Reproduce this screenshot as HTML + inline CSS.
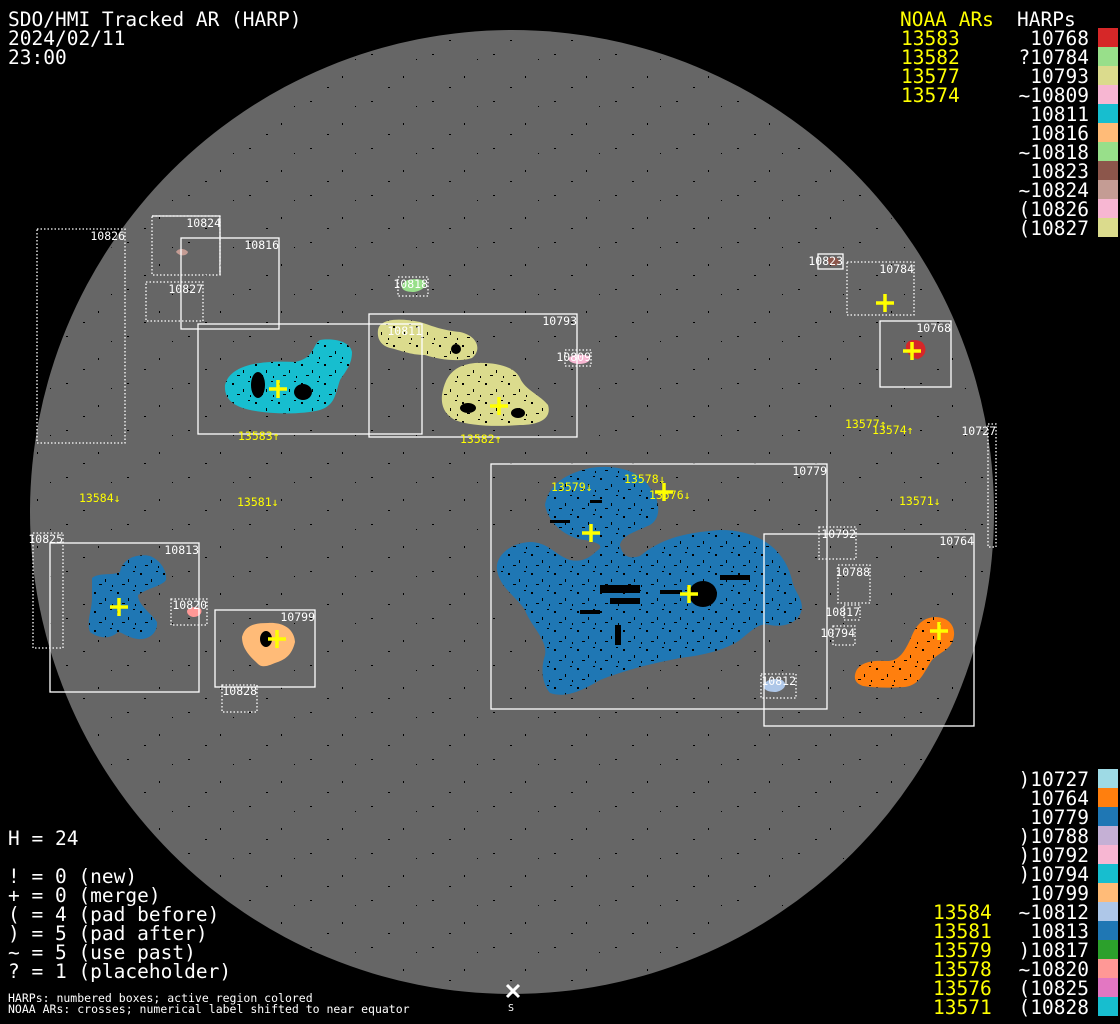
<!DOCTYPE html>
<html><head><meta charset="utf-8"><style>
html,body{margin:0;padding:0;background:#000;width:1120px;height:1024px;overflow:hidden}
svg{display:block}
.t{font-family:"DejaVu Sans Mono","Liberation Mono",monospace;font-size:19.5px;fill:#fff}
.y{fill:#ffff00}
.s{font-family:"DejaVu Sans Mono","Liberation Mono",monospace;font-size:11.5px;fill:#fff}
.sy{font-family:"DejaVu Sans Mono","Liberation Mono",monospace;font-size:11.5px;fill:#ffff00}
.b{fill:none;stroke:#fff;stroke-width:1.3}
.d{fill:none;stroke:#fff;stroke-width:1.3;stroke-dasharray:1.5 2}
.x{stroke:#ffff00;stroke-width:3.5}
</style></head><body>
<svg width="1120" height="1024" viewBox="0 0 1120 1024" xmlns="http://www.w3.org/2000/svg">
<defs>
<pattern id="sp" width="23" height="19" patternUnits="userSpaceOnUse">
<rect x="2" y="3" width="2" height="2" fill="#000"/><rect x="13" y="9" width="1" height="3" fill="#000"/>
<rect x="7" y="14" width="3" height="1" fill="#000"/><rect x="18" y="1" width="2" height="1" fill="#000"/>
<rect x="20" y="15" width="1" height="2" fill="#000"/>
</pattern>
<pattern id="sp2" width="61" height="47" patternUnits="userSpaceOnUse">
<rect x="5" y="7" width="2" height="1" fill="#000"/><rect x="37" y="29" width="1" height="2" fill="#000"/>
<rect x="50" y="12" width="1" height="1" fill="#000"/><rect x="22" y="40" width="2" height="1" fill="#000"/>
</pattern>
</defs>
<rect width="1120" height="1024" fill="#000"/>
<circle cx="512" cy="512" r="482" fill="#666"/>
<circle cx="512" cy="512" r="480" fill="url(#sp2)"/>

<!-- blobs -->
<g id="blobs">
<path fill="#17becf" d="M225,385 C230,365 260,360 295,362 C315,358 312,345 320,340 C330,338 350,340 352,352 C352,365 345,372 340,380 C335,395 335,405 320,410 C300,415 270,414 250,410 C232,406 224,398 225,385Z"/>
<path fill="#dbdb8d" d="M378,330 C380,318 400,318 420,322 C430,325 440,330 460,332 C478,336 482,350 472,358 C460,362 440,360 425,355 C410,355 400,350 390,348 C380,345 377,338 378,330Z"/>
<path fill="#dbdb8d" d="M442,395 C445,375 455,365 475,363 C500,362 515,368 520,378 C525,390 540,395 548,405 C552,418 540,425 520,425 C495,427 470,426 455,420 C444,414 441,405 442,395Z"/>
<path fill="#1f77b4" d="M545,505 C548,488 560,475 590,468 C615,464 640,470 650,488 C660,500 662,518 650,525 C635,532 622,535 620,545 C622,555 628,560 640,556 C660,540 680,533 720,530 C760,530 785,550 792,580 C794,592 805,600 801,612 C798,622 785,628 770,625 C760,622 752,630 740,640 C725,650 705,655 680,658 C650,664 625,670 600,680 C580,692 565,698 550,693 C543,685 540,670 545,655 C548,640 530,625 525,610 C515,595 500,588 497,570 C495,556 510,543 530,542 C548,542 555,555 570,560 C585,563 592,555 598,550 C605,545 595,542 585,540 C565,538 548,522 545,505Z"/>
<path fill="#ff7f0e" d="M855,675 C857,663 870,660 885,661 C900,662 905,650 910,640 C915,628 920,618 935,617 C950,617 957,628 953,640 C950,650 940,652 932,660 C924,672 920,685 905,687 C890,688 875,688 863,686 C857,684 854,680 855,675Z"/>
<path fill="#1f77b4" d="M92,578 C100,572 112,576 120,572 C122,560 135,553 150,556 C160,560 167,570 166,580 C162,586 148,588 138,595 C138,605 150,612 157,622 C158,632 150,640 138,639 C128,638 122,632 118,632 C110,640 98,638 90,632 C86,622 92,610 92,598 Z"/>
<path fill="#ffbb78" d="M242,637 C245,625 255,623 268,623 C282,622 294,628 295,642 C292,655 285,660 275,663 C268,666 262,668 258,664 C252,658 242,650 242,637Z"/>
</g>
<g fill="url(#sp)">
<path d="M225,385 C230,365 260,360 295,362 C315,358 312,345 320,340 C330,338 350,340 352,352 C352,365 345,372 340,380 C335,395 335,405 320,410 C300,415 270,414 250,410 C232,406 224,398 225,385Z"/>
<path d="M378,330 C380,318 400,318 420,322 C430,325 440,330 460,332 C478,336 482,350 472,358 C460,362 440,360 425,355 C410,355 400,350 390,348 C380,345 377,338 378,330Z"/>
<path d="M442,395 C445,375 455,365 475,363 C500,362 515,368 520,378 C525,390 540,395 548,405 C552,418 540,425 520,425 C495,427 470,426 455,420 C444,414 441,405 442,395Z"/>
<path d="M545,505 C548,488 560,475 590,468 C615,464 640,470 650,488 C660,500 662,518 650,525 C635,532 622,535 620,545 C622,555 628,560 640,556 C660,540 680,533 720,530 C760,530 785,550 792,580 C794,592 805,600 801,612 C798,622 785,628 770,625 C760,622 752,630 740,640 C725,650 705,655 680,658 C650,664 625,670 600,680 C580,692 565,698 550,693 C543,685 540,670 545,655 C548,640 530,625 525,610 C515,595 500,588 497,570 C495,556 510,543 530,542 C548,542 555,555 570,560 C585,563 592,555 598,550 C605,545 595,542 585,540 C565,538 548,522 545,505Z"/>
<path d="M855,675 C857,663 870,660 885,661 C900,662 905,650 910,640 C915,628 920,618 935,617 C950,617 957,628 953,640 C950,650 940,652 932,660 C924,672 920,685 905,687 C890,688 875,688 863,686 C857,684 854,680 855,675Z"/>
<path d="M92,578 C100,572 112,576 120,572 C122,560 135,553 150,556 C160,560 167,570 166,580 C162,586 148,588 138,595 C138,605 150,612 157,622 C158,632 150,640 138,639 C128,638 122,632 118,632 C110,640 98,638 90,632 C86,622 92,610 92,598 Z"/>
</g>
<path fill="#c49c94" d="M176,252 C178,248 185,248 188,252 C187,256 180,257 176,252Z"/>
<path fill="#98df8a" d="M402,285 C404,279 414,278 423,280 C428,284 425,290 414,292 C406,292 401,290 402,285Z"/>
<path fill="#f7b6d2" d="M569,358 C572,354 582,354 589,356 C592,360 588,364 578,364 C571,363 568,361 569,358Z"/>
<path fill="#8c564b" d="M828,258 C832,256 838,257 840,262 C838,267 830,267 828,263Z"/>
<path fill="#d62728" d="M906,345 C908,339 916,339 922,342 C928,348 926,356 918,359 C910,358 905,352 906,345Z"/>
<path fill="#aec7e8" d="M764,685 C766,679 774,678 782,680 C788,684 785,690 776,692 C768,692 763,690 764,685Z"/>
<path fill="#ff9896" d="M187,611 C188,607 196,606 201,609 C203,614 198,617 193,617 C189,616 187,614 187,611Z"/>

<!-- sunspots -->
<g fill="#000">
<ellipse cx="258" cy="385" rx="7" ry="13"/><ellipse cx="303" cy="392" rx="9" ry="8"/>
<ellipse cx="266" cy="639" rx="6" ry="8"/>
<ellipse cx="703" cy="594" rx="14" ry="13"/>
<ellipse cx="518" cy="413" rx="7" ry="5"/><ellipse cx="468" cy="408" rx="8" ry="5"/>
<ellipse cx="456" cy="349" rx="5" ry="5"/>
<rect x="600" y="585" width="40" height="8"/><rect x="610" y="598" width="30" height="6"/>
<rect x="720" y="575" width="30" height="5"/><rect x="615" y="625" width="6" height="20"/>
<rect x="580" y="610" width="20" height="4"/><rect x="660" y="590" width="22" height="4"/>
<rect x="550" y="520" width="20" height="3"/><rect x="590" y="500" width="12" height="3"/>
<rect x="800" y="350" width="0" height="0"/>
</g>

<!-- boxes -->
<rect class="d" x="37" y="229" width="88" height="214"/>
<rect class="d" x="152" y="216" width="68" height="59"/>
<path class="b" d="M152,216H220V275"/>
<rect class="b" x="181" y="238" width="98" height="91"/>
<rect class="d" x="146" y="282" width="57" height="39"/>
<rect class="b" x="198" y="324" width="224" height="110"/>
<rect class="b" x="369" y="314" width="208" height="123"/>
<rect class="d" x="398" y="277" width="30" height="19"/>
<rect class="d" x="565" y="350" width="26" height="16"/>
<rect class="b" x="818" y="254" width="25" height="15"/>
<rect class="d" x="847" y="262" width="67" height="53"/>
<rect class="b" x="880" y="321" width="71" height="66"/>
<rect class="d" x="988" y="424" width="8" height="123"/>
<rect class="b" x="491" y="464" width="336" height="245"/>
<rect class="b" x="764" y="534" width="210" height="192"/>
<rect class="d" x="819" y="527" width="37" height="32"/>
<rect class="d" x="838" y="565" width="32" height="38"/>
<rect class="d" x="844" y="605" width="16" height="15"/>
<rect class="d" x="833" y="626" width="22" height="19"/>
<rect class="d" x="761" y="674" width="35" height="24"/>
<rect class="d" x="33" y="533" width="30" height="115"/>
<rect class="b" x="50" y="543" width="149" height="149"/>
<rect class="d" x="171" y="599" width="36" height="26"/>
<rect class="b" x="215" y="610" width="100" height="77"/>
<rect class="d" x="222" y="685" width="35" height="27"/>

<!-- box labels -->
<g class="s" text-anchor="end">
<text x="125" y="240">10826</text><text x="221" y="227">10824</text><text x="279" y="249">10816</text>
<text x="203" y="293">10827</text><text x="422" y="335">10811</text><text x="577" y="325">10793</text>
<text x="428" y="288">10818</text><text x="591" y="361">10809</text><text x="843" y="265">10823</text>
<text x="914" y="273">10784</text><text x="951" y="332">10768</text><text x="996" y="435">10727</text>
<text x="827" y="475">10779</text><text x="974" y="545">10764</text><text x="856" y="538">10792</text>
<text x="870" y="576">10788</text><text x="860" y="616">10817</text><text x="855" y="637">10794</text>
<text x="796" y="685">10812</text><text x="63" y="543">10825</text><text x="199" y="554">10813</text>
<text x="207" y="609">10820</text><text x="315" y="621">10799</text><text x="257" y="695">10828</text>
</g>

<!-- crosses -->
<g class="x">
<path d="M269,389h18M278,380v18"/><path d="M490,406h18M499,397v18"/>
<path d="M876,303h18M885,294v18"/><path d="M903,351h18M912,342v18"/>
<path d="M582,533h18M591,524v18"/><path d="M655,492h18M664,483v18"/>
<path d="M680,594h18M689,585v18"/><path d="M930,631h18M939,622v18"/>
<path d="M110,607h18M119,598v18"/><path d="M268,639h18M277,630v18"/>
</g>

<!-- NOAA labels -->
<g class="sy">
<text x="238" y="440">13583↑</text><text x="460" y="443">13582↑</text>
<text x="845" y="428">13577↑</text><text x="872" y="434">13574↑</text>
<text x="79" y="502">13584↓</text><text x="237" y="506">13581↓</text>
<text x="551" y="491">13579↓</text><text x="624" y="483">13578↓</text>
<text x="649" y="499">13576↓</text><text x="899" y="505">13571↓</text>
</g>

<!-- S marker -->
<path d="M507,985l12,12M519,985l-12,12" stroke="#fff" stroke-width="3"/>
<text class="s" x="508" y="1011" style="font-size:10px">S</text>

<!-- title -->
<g class="t">
<text x="8" y="26">SDO/HMI Tracked AR (HARP)</text>
<text x="8" y="45">2024/02/11</text>
<text x="8" y="64">23:00</text>
<text x="8" y="845">H = 24</text>
<text x="8" y="883">! = 0 (new)</text>
<text x="8" y="902">+ = 0 (merge)</text>
<text x="8" y="921">( = 4 (pad before)</text>
<text x="8" y="940">) = 5 (pad after)</text>
<text x="8" y="959">~ = 5 (use past)</text>
<text x="8" y="978">? = 1 (placeholder)</text>
</g>
<text class="s" x="8" y="1002">HARPs: numbered boxes; active region colored</text>
<text class="s" x="8" y="1013">NOAA ARs: crosses; numerical label shifted to near equator</text>

<!-- right legend top -->
<g class="t y">
<text x="900" y="26">NOAA ARs</text>
<text x="901" y="45">13583</text><text x="901" y="64">13582</text><text x="901" y="83">13577</text><text x="901" y="102">13574</text>
</g>
<text class="t" x="1017" y="26">HARPs</text>
<g class="t" text-anchor="end">
<text x="1089" y="45">10768</text><text x="1089" y="64">?10784</text><text x="1089" y="83">10793</text>
<text x="1089" y="102">~10809</text><text x="1089" y="121">10811</text><text x="1089" y="140">10816</text>
<text x="1089" y="159">~10818</text><text x="1089" y="178">10823</text><text x="1089" y="197">~10824</text>
<text x="1089" y="216">(10826</text><text x="1089" y="235">(10827</text>
</g>
<g>
<rect x="1098" y="28" width="20" height="19" fill="#d62728"/>
<rect x="1098" y="47" width="20" height="19" fill="#98df8a"/>
<rect x="1098" y="66" width="20" height="19" fill="#dbdb8d"/>
<rect x="1098" y="85" width="20" height="19" fill="#f7b6d2"/>
<rect x="1098" y="104" width="20" height="19" fill="#17becf"/>
<rect x="1098" y="123" width="20" height="19" fill="#ffbb78"/>
<rect x="1098" y="142" width="20" height="19" fill="#98df8a"/>
<rect x="1098" y="161" width="20" height="19" fill="#8c564b"/>
<rect x="1098" y="180" width="20" height="19" fill="#c49c94"/>
<rect x="1098" y="199" width="20" height="19" fill="#f7b6d2"/>
<rect x="1098" y="218" width="20" height="19" fill="#dbdb8d"/>
</g>

<!-- right legend bottom -->
<g class="t" text-anchor="end">
<text x="1089" y="786">)10727</text><text x="1089" y="805">10764</text><text x="1089" y="824">10779</text>
<text x="1089" y="843">)10788</text><text x="1089" y="862">)10792</text><text x="1089" y="881">)10794</text>
<text x="1089" y="900">10799</text><text x="1089" y="919">~10812</text><text x="1089" y="938">10813</text>
<text x="1089" y="957">)10817</text><text x="1089" y="976">~10820</text><text x="1089" y="995">(10825</text>
<text x="1089" y="1014">(10828</text>
</g>
<g class="t y">
<text x="933" y="919">13584</text><text x="933" y="938">13581</text><text x="933" y="957">13579</text>
<text x="933" y="976">13578</text><text x="933" y="995">13576</text><text x="933" y="1014">13571</text>
</g>
<g>
<rect x="1098" y="769" width="20" height="19" fill="#9edae5"/>
<rect x="1098" y="788" width="20" height="19" fill="#ff7f0e"/>
<rect x="1098" y="807" width="20" height="19" fill="#1f77b4"/>
<rect x="1098" y="826" width="20" height="19" fill="#c5b0d5"/>
<rect x="1098" y="845" width="20" height="19" fill="#f7b6d2"/>
<rect x="1098" y="864" width="20" height="19" fill="#17becf"/>
<rect x="1098" y="883" width="20" height="19" fill="#ffbb78"/>
<rect x="1098" y="902" width="20" height="19" fill="#aec7e8"/>
<rect x="1098" y="921" width="20" height="19" fill="#1f77b4"/>
<rect x="1098" y="940" width="20" height="19" fill="#2ca02c"/>
<rect x="1098" y="959" width="20" height="19" fill="#ff9896"/>
<rect x="1098" y="978" width="20" height="19" fill="#e377c2"/>
<rect x="1098" y="997" width="20" height="19" fill="#17becf"/>
</g>
</svg>
</body></html>
